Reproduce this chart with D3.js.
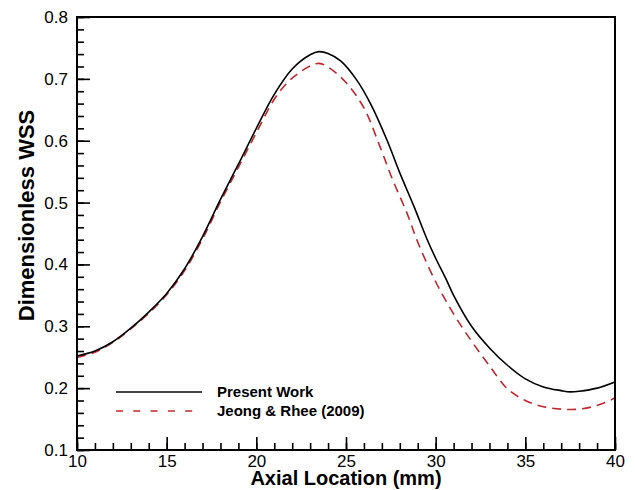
<!DOCTYPE html>
<html>
<head>
<meta charset="utf-8">
<title>Dimensionless WSS</title>
<script src="https://cdn.jsdelivr.net/npm/d3@7"></script>
<style>
body, html {
  margin: 0;
  background: white;
}
svg text {
  font-family: "Liberation Sans", Arial, sans-serif;
}
.tick text {
  font-size: 17px;
  fill: #000;
}
</style>
</head>
<body>
<svg id="chart" width="635" height="490"></svg>
<script>
// values
var presentX = [10, 11, 12, 13, 14, 15, 16, 17, 18, 19, 20, 21, 22, 23, 23.5, 24, 24.7, 25.6, 26.4, 27.3, 28, 28.8, 29.5, 30, 30.6, 31, 32, 33, 34, 35, 36, 37, 37.5, 38, 39, 40];
var presentY = [0.252, 0.260, 0.275, 0.297, 0.323, 0.353, 0.393, 0.445, 0.505, 0.562, 0.620, 0.675, 0.716, 0.739, 0.744, 0.741, 0.729, 0.698, 0.658, 0.600, 0.548, 0.493, 0.442, 0.410, 0.375, 0.350, 0.300, 0.265, 0.237, 0.215, 0.202, 0.196, 0.194, 0.195, 0.200, 0.210];

var jeongX = [10, 11, 12, 13, 14, 15, 16, 17, 18, 19, 20, 21, 21.7, 22.3, 23, 23.5, 24, 25, 26, 26.9, 27.6, 28.4, 29, 30, 31, 32, 33, 34, 35, 36, 37, 38, 39, 40];
var jeongY = [0.250, 0.258, 0.274, 0.296, 0.321, 0.351, 0.390, 0.441, 0.501, 0.557, 0.613, 0.667, 0.693, 0.708, 0.721, 0.725, 0.719, 0.694, 0.653, 0.590, 0.537, 0.483, 0.436, 0.372, 0.320, 0.276, 0.236, 0.199, 0.180, 0.170, 0.166, 0.166, 0.172, 0.184];

var xTicks = [10, 15, 20, 25, 30, 35, 40];
var yTicks = [0.1, 0.2, 0.3, 0.4, 0.5, 0.6, 0.7, 0.8];
var xMinor = d3.range(10, 40.01, 1);
var yMinor = d3.range(0.1, 0.801, 0.02);

var legendNames = ["Present Work", "Jeong & Rhee (2009)"];

var margin = {left: 77, top: 17, right: 20, bottom: 40};
var width = 635 - margin.left - margin.right,
    height = 490 - margin.top - margin.bottom;

var svg = d3.select("#chart");
var g = svg.append("g")
  .attr("transform", "translate(" + margin.left + "," + margin.top + ")");

var x = d3.scaleLinear().domain([10, 40]).range([0, width]);
var y = d3.scaleLinear().domain([0.1, 0.8]).range([height, 0]);

// minor ticks
g.append("g")
  .attr("transform", "translate(0," + height + ")")
  .call(d3.axisBottom(x).tickValues(xMinor).tickSize(-7).tickSizeOuter(0).tickFormat(""))
  .call(function(a) { a.select(".domain").remove(); });
g.append("g")
  .call(d3.axisLeft(y).tickValues(yMinor).tickSize(-7).tickSizeOuter(0).tickFormat(""))
  .call(function(a) { a.select(".domain").remove(); });

// major ticks
g.append("g")
  .attr("transform", "translate(0," + height + ")")
  .call(d3.axisBottom(x).tickValues(xTicks).tickSize(-13).tickSizeOuter(0).tickPadding(5).tickFormat(d3.format("d")))
  .call(function(a) { a.select(".domain").remove(); });
g.append("g")
  .call(d3.axisLeft(y).tickValues(yTicks).tickSize(-13).tickSizeOuter(0).tickPadding(9).tickFormat(d3.format(".1f")))
  .call(function(a) { a.select(".domain").remove(); });

g.selectAll(".tick line").attr("stroke", "#000").attr("stroke-width", 1.6);

// curves
var line = d3.line()
  .x(function(d) { return x(d[0]); })
  .y(function(d) { return y(d[1]); })
  .curve(d3.curveCatmullRom.alpha(0.5));

g.append("path")
  .datum(jeongX.map(function(v, i) { return [v, jeongY[i]]; }))
  .attr("fill", "none")
  .attr("stroke", "#c1272d")
  .attr("stroke-width", 1.6)
  .attr("stroke-dasharray", "9,6")
  .attr("d", line);

g.append("path")
  .datum(presentX.map(function(v, i) { return [v, presentY[i]]; }))
  .attr("fill", "none")
  .attr("stroke", "#000")
  .attr("stroke-width", 1.6)
  .attr("d", line);

// frame
g.append("rect")
  .attr("width", width)
  .attr("height", height)
  .attr("fill", "none")
  .attr("stroke", "#000")
  .attr("stroke-width", 2);

// legend
var legend = svg.append("g");
legend.append("line")
  .attr("x1", 116).attr("x2", 202).attr("y1", 392).attr("y2", 392)
  .attr("stroke", "#000").attr("stroke-width", 1.6);
legend.append("line")
  .attr("x1", 116).attr("x2", 196).attr("y1", 411).attr("y2", 411)
  .attr("stroke", "#c1272d").attr("stroke-width", 1.6)
  .attr("stroke-dasharray", "7,10.3");
legend.selectAll("text")
  .data(legendNames)
  .enter().append("text")
  .attr("x", 217)
  .attr("y", function(d, i) { return 397 + i * 19; })
  .attr("font-size", "15px")
  .attr("font-weight", "bold")
  .text(function(d) { return d; });

// axis titles
svg.append("text")
  .attr("x", margin.left + width / 2)
  .attr("y", 485)
  .attr("text-anchor", "middle")
  .attr("font-size", "20px")
  .attr("font-weight", "bold")
  .text("Axial Location (mm)");

svg.append("text")
  .attr("transform", "translate(34," + (margin.top + height / 2 - 18) + ") rotate(-90)")
  .attr("text-anchor", "middle")
  .attr("font-size", "22px")
  .attr("font-weight", "bold")
  .text("Dimensionless WSS");
</script>
</body>
</html>
